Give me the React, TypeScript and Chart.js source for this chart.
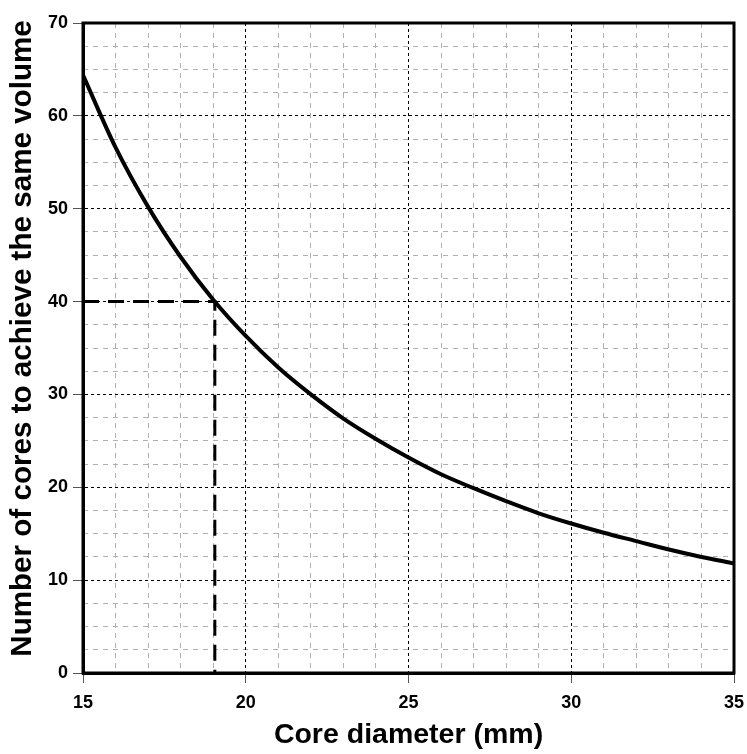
import React, { useEffect, useRef } from 'react';
import { Chart, registerables } from 'chart.js';

Chart.register(...registerables);

// Data
const diameters = [15, 16, 17, 18, 19, 20, 21, 22, 23, 24, 25, 26, 27, 28, 29, 30, 31, 32, 33, 34, 35];
const coreCounts = [64.4, 56.6, 50.2, 44.8, 40.2, 36.3, 32.9, 30.0, 27.4, 25.2, 23.2, 21.4, 19.9, 18.5, 17.2, 16.1, 15.1, 14.2, 13.3, 12.5, 11.8];
const markerX = [15, 19.05, 19.05];
const markerY = [40, 40, 0];
const xRange = [15, 35];
const yRange = [0, 70];
const xMajorStep = 5;
const xMinorStep = 1;
const yMajorStep = 10;
const yMinorStep = 2.5;
const X_TITLE = 'Core diameter (mm)';
const Y_TITLE = 'Number of cores to achieve the same volume';

const FONT = '"Liberation Sans", Arial, Helvetica, sans-serif';

const framePlugin = {
  id: 'frame',
  afterDraw(chart: any) {
    const { ctx, chartArea } = chart;
    ctx.save();
    ctx.strokeStyle = '#000';
    ctx.lineWidth = 3;
    ctx.strokeRect(chartArea.left, chartArea.top, chartArea.right - chartArea.left, chartArea.bottom - chartArea.top);
    ctx.restore();
  },
};

const yTitlePlugin = {
  id: 'yTitle',
  afterDraw(chart: any) {
    const { ctx, chartArea } = chart;
    ctx.save();
    ctx.translate(23, (chartArea.top + chartArea.bottom) / 2 - 9.5);
    ctx.rotate(-Math.PI / 2);
    ctx.font = `bold 29.6px ${FONT}`;
    ctx.textAlign = 'center';
    ctx.textBaseline = 'middle';
    ctx.fillStyle = '#000';
    ctx.fillText(Y_TITLE, 0, 0);
    ctx.restore();
  },
};

export default function App() {
  const canvasRef = useRef<HTMLCanvasElement | null>(null);

  useEffect(() => {
    if (!canvasRef.current) return;
    const curve = diameters.map((d, i) => ({ x: d, y: coreCounts[i] }));
    const marker = markerX.map((x, i) => ({ x, y: markerY[i] }));
    const chart = new Chart(canvasRef.current, {
      type: 'line',
      data: {
        datasets: [
          {
            data: curve,
            borderColor: '#000',
            borderWidth: 4,
            pointRadius: 0,
            cubicInterpolationMode: 'monotone',
            fill: false,
            xAxisID: 'x',
            yAxisID: 'y',
          },
          {
            data: marker,
            borderColor: '#000',
            borderWidth: 3,
            borderDash: [16, 9],
            pointRadius: 0,
            tension: 0,
            fill: false,
            xAxisID: 'x',
            yAxisID: 'y',
          },
        ],
      },
      options: {
        animation: false,
        responsive: true,
        maintainAspectRatio: false,
        layout: { padding: { top: 23, right: 13, left: 0, bottom: 0 } },
        plugins: {
          legend: { display: false },
          tooltip: { enabled: false },
        },
        scales: {
          xMinor: {
            type: 'linear',
            position: 'bottom',
            min: xRange[0],
            max: xRange[1],
            ticks: { display: false, stepSize: xMinorStep },
            grid: {
              drawTicks: false,
              lineWidth: 1,
              color: (c: any) => (c.tick && c.tick.value % xMajorStep === 0 ? 'rgba(0,0,0,0)' : '#b0b0b0'),
            },
            border: { display: false, dash: [5, 5] },
            afterFit: (s: any) => { s.height = 0; s.paddingLeft = 0; s.paddingRight = 0; },
          },
          yMinor: {
            type: 'linear',
            position: 'left',
            min: yRange[0],
            max: yRange[1],
            ticks: { display: false, stepSize: yMinorStep },
            grid: {
              drawTicks: false,
              lineWidth: 1,
              color: (c: any) => (c.tick && c.tick.value % yMajorStep === 0 ? 'rgba(0,0,0,0)' : '#b0b0b0'),
            },
            border: { display: false, dash: [5, 5] },
            afterFit: (s: any) => { s.width = 0; s.paddingTop = 0; s.paddingBottom = 0; },
          },
          x: {
            type: 'linear',
            position: 'bottom',
            min: xRange[0],
            max: xRange[1],
            ticks: {
              stepSize: xMajorStep,
              color: '#000',
              padding: 9,
              font: { family: FONT, size: 18, weight: 'bold' },
            },
            grid: {
              color: '#000',
              lineWidth: 1,
              drawTicks: true,
              tickLength: 10,
              tickColor: '#555',
              tickWidth: 1,
            },
            border: { display: true, color: '#000', width: 3, dash: [3, 3] },
            title: {
              display: true,
              text: X_TITLE,
              color: '#000',
              font: { family: FONT, size: 28.5, weight: 'bold' },
              padding: { top: 0, bottom: 2 },
            },
            afterFit: (s: any) => { s.height = 81; s.paddingLeft = 0; s.paddingRight = 0; },
          },
          y: {
            type: 'linear',
            position: 'left',
            min: yRange[0],
            max: yRange[1],
            ticks: {
              stepSize: yMajorStep,
              color: '#000',
              padding: 5,
              font: { family: FONT, size: 18, weight: 'bold' },
            },
            grid: {
              color: '#000',
              lineWidth: 1,
              drawTicks: true,
              tickLength: 10,
              tickColor: '#555',
              tickWidth: 1,
            },
            border: { display: true, color: '#000', width: 3, dash: [3, 3] },
            afterFit: (s: any) => { s.width = 83; s.paddingTop = 0; s.paddingBottom = 0; },
          },
        },
      } as any,
      plugins: [framePlugin, yTitlePlugin],
    });
    return () => chart.destroy();
  }, []);

  return (
    <div style={{ position: 'absolute', left: 0, top: 0, width: 747, height: 754, background: '#fff' }}>
      <canvas ref={canvasRef} />
    </div>
  );
}
